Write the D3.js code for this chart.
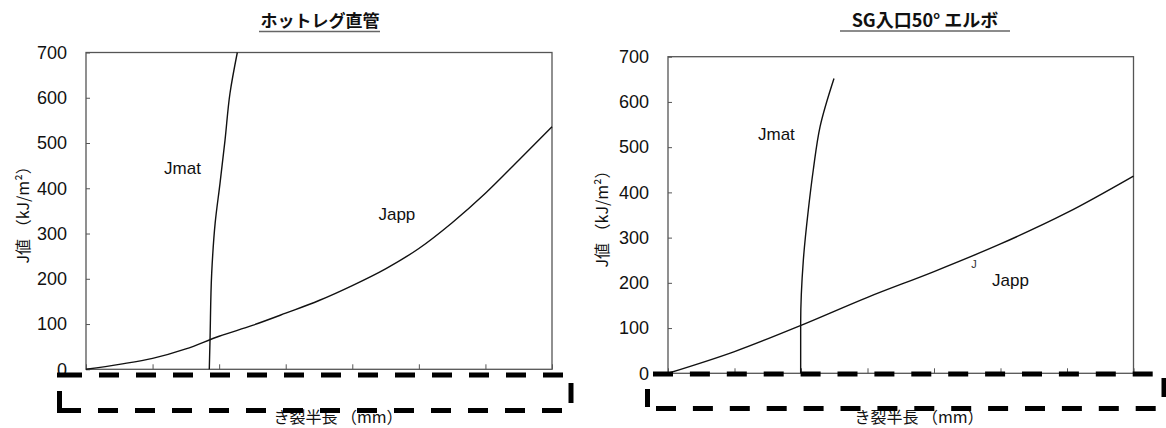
<!DOCTYPE html>
<html><head><meta charset="utf-8">
<script src="https://cdn.jsdelivr.net/npm/d3@7"></script>
<style>
html,body{margin:0;padding:0;background:#fff;}
svg{display:block;}
</style></head>
<body>
<svg id="c" width="1166" height="428"></svg>
<script>
// ---- data ----
const titles = ["ホットレグ直管", "SG入口50° エルボ"];
const yLabel = "J値 （kJ/m²）";
const xLabel = "き裂半長 （mm）";
const xTicks = [0, 1, 2, 3, 4, 5, 6, 7];
const yTicks = [0, 100, 200, 300, 400, 500, 600, 700];

const leftJapp = [[0,0],[0.5,11],[1,24],[1.5,45],[2,73],[2.5,97],[3,124],[3.5,152],[4,185],[4.5,222],[5,267],[5.5,324],[6,389],[6.5,462],[7,536]];
const leftJmat = [[1.852,0],[1.863,65],[1.888,212],[1.94,323],[2.013,411],[2.088,506],[2.163,610],[2.273,700]];
const rightJapp = [[0,0],[1,48],[2,106],[3,168],[4,225],[5,286],[6,355],[7,436]];
const rightJmat = [[1.995,0],[1.995,110],[2.035,250],[2.11,361],[2.185,450],[2.286,545],[2.496,652]];

const seriesLabels = ["Jmat", "Japp"];
// label anchor positions in data units
const leftLabelPos = [[1.45, 443], [4.67, 343]];
const rightLabelPos = [[1.63, 527], [5.15, 205]];

// ---- layout ----
const charts = [
  {x0:86, x1:552, yTop:52.5, yBot:369.3, title:titles[0], tx:320, ux:[259,380], uy:31.5,
   japp:leftJapp, jmat:leftJmat, lab:leftLabelPos, ylx:22, xlx:338},
  {x0:668, x1:1133.5, yTop:56.7, yBot:373.3, title:titles[1], tx:925, ux:[840,1010], uy:31,
   japp:rightJapp, jmat:rightJmat, lab:rightLabelPos, ylx:601, xlx:919}
];

const svg = d3.select("#c");
const numFont = "'Liberation Sans', Arial, sans-serif";
const jpFont = "'Noto Sans CJK JP', 'Noto Sans', sans-serif";

charts.forEach((c, i) => {
  const x = d3.scaleLinear().domain([0, 7]).range([c.x0, c.x1]);
  const y = d3.scaleLinear().domain([0, 700]).range([c.yBot, c.yTop]);
  const g = svg.append("g");

  // title
  g.append("text").attr("x", c.tx).attr("y", 26.5).attr("text-anchor", "middle")
    .attr("font-family", jpFont).attr("font-weight", "bold").attr("font-size", i === 0 ? 17 : 18)
    .attr("fill", "#111").text(c.title);
  g.append("line").attr("x1", c.ux[0]).attr("x2", c.ux[1]).attr("y1", c.uy).attr("y2", c.uy)
    .attr("stroke", "#666").attr("stroke-width", 1.5);

  // frame
  g.append("rect").attr("x", c.x0).attr("y", c.yTop).attr("width", c.x1-c.x0).attr("height", c.yBot-c.yTop)
    .attr("fill", "none").attr("stroke", "#555").attr("stroke-width", 1.3);

  // y axis
  const ya = d3.axisLeft(y).tickValues(yTicks).tickSize(-4).tickPadding(19).tickFormat(d3.format("d"));
  const yg = g.append("g").attr("transform", `translate(${c.x0},0)`).call(ya);
  yg.select(".domain").remove();
  yg.selectAll("line").attr("stroke", "#555");
  yg.selectAll("text").attr("font-family", numFont).attr("font-size", 18).attr("fill", "#111");

  // x axis ticks (labels hidden by redaction box)
  const xa = d3.axisBottom(x).tickValues(xTicks).tickSize(-5).tickFormat("");
  const xg = g.append("g").attr("transform", `translate(0,${c.yBot})`).call(xa);
  xg.select(".domain").remove();
  xg.selectAll("line").attr("stroke", "#555");

  // y label
  const ym = (c.yTop + c.yBot) / 2;
  g.append("text").attr("transform", `translate(${c.ylx},${ym}) rotate(-90)`)
    .attr("text-anchor", "middle").attr("dominant-baseline", "central")
    .attr("font-family", jpFont).attr("font-size", 16).attr("fill", "#111").text(yLabel);

  // curves
  const line = d3.line().x(d => x(d[0])).y(d => y(d[1])).curve(d3.curveMonotoneX);
  const lineY = d3.line().x(d => x(d[0])).y(d => y(d[1])).curve(d3.curveMonotoneY);
  g.append("path").attr("d", line(c.japp)).attr("fill", "none").attr("stroke", "#111").attr("stroke-width", 1.4);
  g.append("path").attr("d", lineY(c.jmat)).attr("fill", "none").attr("stroke", "#111").attr("stroke-width", 1.4);

  seriesLabels.forEach((s, k) => {
    g.append("text").attr("x", x(c.lab[k][0])).attr("y", y(c.lab[k][1])).attr("text-anchor", "middle")
      .attr("dominant-baseline", "central")
      .attr("font-family", numFont).attr("font-size", 17).attr("fill", "#111").text(s);
  });
  if (i === 1) {
    g.append("text").attr("x", x(4.6)).attr("y", y(233)).attr("text-anchor", "middle")
      .attr("font-family", numFont).attr("font-size", 11).attr("fill", "#333").text("J");
  }

  // x label
  g.append("text").attr("x", c.xlx).attr("y", 423).attr("text-anchor", "middle")
    .attr("font-family", jpFont).attr("font-size", 16).attr("fill", "#111").text(xLabel);
});

// ---- redaction box (dashed) ----
const box = svg.append("g").attr("stroke", "#000").attr("stroke-width", 5).attr("fill", "none");
function dashed(x1, x2, yy, arr) {
  box.append("line").attr("x1", x1).attr("x2", x2).attr("y1", yy).attr("y2", yy).attr("stroke-dasharray", arr);
}
function solid(x1, y1, x2, y2) {
  box.append("line").attr("x1", x1).attr("x2", x2).attr("y1", y1).attr("y2", y2);
}
// left
solid(57, 375, 62, 375);
dashed(62, 563, 375, "20 17");
solid(59.5, 391, 59.5, 412.5);
solid(57, 410.5, 61, 410.5);
dashed(61, 563, 410.5, "20 17");
solid(571, 383, 571, 403);
// right
dashed(653, 1154, 374, "20 16.9");
solid(647.5, 389, 647.5, 407);
dashed(656, 1160, 408.5, "20 16.9");
solid(1164, 378, 1164, 397);
</script>
</body></html>
